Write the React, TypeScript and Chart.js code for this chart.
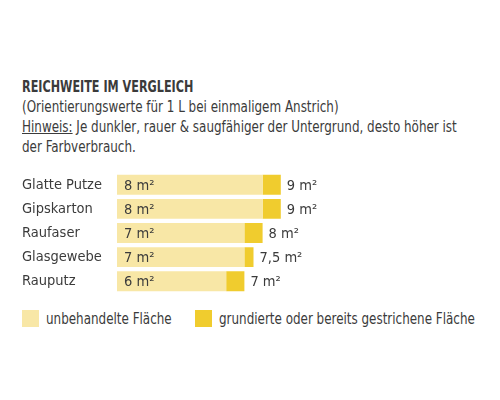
import React, { useEffect, useRef } from "react";
import { Chart, registerables } from "chart.js";

Chart.register(...registerables);

const categories = ["Glatte Putze", "Gipskarton", "Raufaser", "Glasgewebe", "Rauputz"];
const untreated = [8, 8, 7, 7, 6];
const primed = [9, 9, 8, 7.5, 7];
const seriesLabels = ["unbehandelte Fläche", "grundierte oder bereits gestrichene Fläche"];

const FONT = "'Liberation Sans Narrow', 'DejaVu Sans Condensed', sans-serif";
const TEXT = "#3b3b3b";
const LIGHT = "#F8E7A6";
const DARK = "#F0CC2E";
const seriesColors = [LIGHT, DARK];

const fmt = (v: number) => `${String(v).replace(".", ",")} m²`;

// m² labels: inside the light bar and just after the full bar
const valueLabels = {
  id: "valueLabels",
  afterDatasetsDraw(chart: any) {
    const ctx = chart.ctx;
    const m0 = chart.getDatasetMeta(0);
    const m1 = chart.getDatasetMeta(1);
    ctx.save();
    ctx.font = `14.5px ${FONT}`;
    ctx.fillStyle = TEXT;
    ctx.textBaseline = "middle";
    ctx.textAlign = "left";
    m0.data.forEach((bar: any, i: number) => {
      ctx.fillText(fmt(untreated[i]), bar.base + 7, bar.y + 1);
    });
    m1.data.forEach((bar: any, i: number) => {
      ctx.fillText(fmt(primed[i]), bar.x + 6, bar.y + 1);
    });
    ctx.restore();
  },
};

const ReachChart: React.FC = () => {
  const chartRef = useRef<HTMLCanvasElement>(null);
  const chartInstance = useRef<Chart | null>(null);

  useEffect(() => {
    if (!chartRef.current) return;
    const ctx = chartRef.current.getContext("2d");
    if (!ctx) return;
    if (chartInstance.current) chartInstance.current.destroy();

    chartInstance.current = new Chart(ctx, {
      type: "bar",
      data: {
        labels: categories,
        datasets: [
          {
            label: seriesLabels[0],
            data: untreated,
            backgroundColor: LIGHT,
            barPercentage: 1,
            categoryPercentage: 0.82,
          },
          {
            label: seriesLabels[1],
            data: primed.map((v, i) => v - untreated[i]),
            backgroundColor: DARK,
            barPercentage: 1,
            categoryPercentage: 0.82,
          },
        ],
      },
      plugins: [valueLabels],
      options: {
        indexAxis: "y",
        animation: false,
        responsive: true,
        maintainAspectRatio: false,
        layout: { padding: { left: 22, right: 19, top: 0, bottom: 0 } },
        scales: {
          x: {
            stacked: true,
            display: false,
            min: 0,
            max: 20,
          },
          y: {
            stacked: true,
            grid: { display: false },
            border: { display: false },
            ticks: {
              autoSkip: false,
              crossAlign: "far",
              color: TEXT,
              font: { family: FONT, size: 14.5 },
            },
            afterFit: (scale: any) => {
              scale.width = 95;
            },
          },
        },
        plugins: {
          legend: { display: false },
          tooltip: { enabled: false },
        },
      },
    });

    return () => {
      if (chartInstance.current) {
        chartInstance.current.destroy();
        chartInstance.current = null;
      }
    };
  }, []);

  return (
    <div style={{ position: "absolute", top: 161, left: 0, width: 500, height: 144 }}>
      <canvas ref={chartRef} />
    </div>
  );
};

const narrow: React.CSSProperties = {
  display: "inline-block",
  transform: "scaleX(0.83)",
  transformOrigin: "left center",
  whiteSpace: "nowrap",
};

export default function App() {
  const legendLeft = [22, 195];
  return (
    <div style={{ position: "relative", width: 500, height: 400, background: "#fff" }}>
      <style>{`body{margin:0}`}</style>
      <div
        style={{
          position: "absolute",
          top: 77,
          left: 22,
          fontFamily: FONT,
          color: TEXT,
          lineHeight: "20px",
          fontSize: 16,
        }}
      >
        <div style={{ ...narrow, fontWeight: "bold", fontSize: 15 }}>REICHWEITE IM VERGLEICH</div>
        <br />
        <div style={narrow}>(Orientierungswerte für 1 L bei einmaligem Anstrich)</div>
        <br />
        <div style={narrow}>
          <span style={{ textDecoration: "underline" }}>Hinweis:</span> Je dunkler, rauer &amp; saugfähiger der
          Untergrund, desto höher ist
        </div>
        <br />
        <div style={narrow}>der Farbverbrauch.</div>
      </div>
      {seriesLabels.map((label, i) => (
        <div
          key={label}
          style={{
            position: "absolute",
            top: 309,
            left: legendLeft[i],
            height: 18,
            display: "flex",
            alignItems: "center",
            fontFamily: FONT,
            fontSize: 16,
            color: TEXT,
          }}
        >
          <span style={{ width: 17, height: 17, background: seriesColors[i], marginRight: 7 }} />
          <span style={narrow}>{label}</span>
        </div>
      ))}
      <ReachChart />
    </div>
  );
}
